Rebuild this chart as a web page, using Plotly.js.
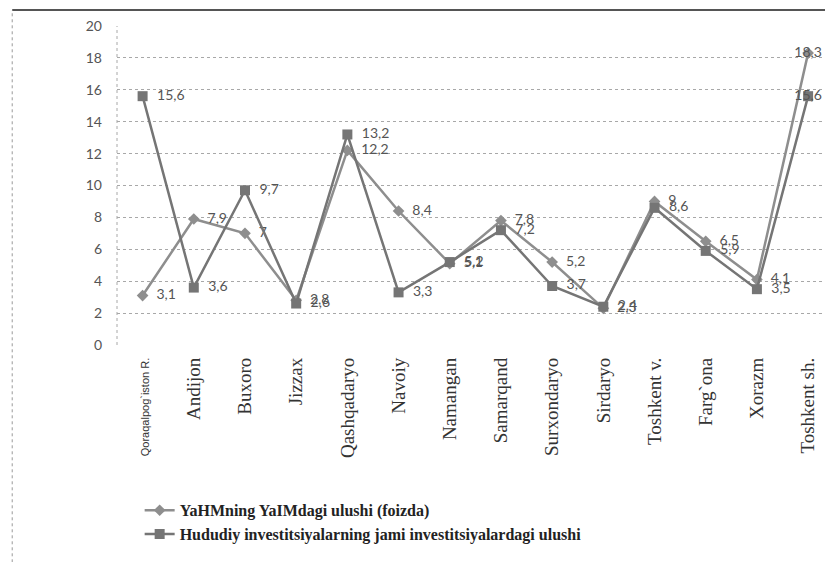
<!DOCTYPE html>
<html>
<head>
<meta charset="utf-8">
<script src="https://cdn.plot.ly/plotly-3.0.1.min.js"></script>
<style>
  html, body { margin: 0; padding: 0; background: #ffffff; }
  #chart { width: 825px; height: 562px; }
</style>
</head>
<body>
<div id="chart"></div>
<script>
const regions = ["Qoraqalpog`iston R.", "Andijon", "Buxoro", "Jizzax", "Qashqadaryo", "Navoiy",
  "Namangan", "Samarqand", "Surxondaryo", "Sirdaryo", "Toshkent v.", "Farg`ona", "Xorazm", "Toshkent sh."];
const gdpShare = [3.1, 7.9, 7.0, 2.8, 12.2, 8.4, 5.1, 7.8, 5.2, 2.3, 9.0, 6.5, 4.1, 18.3];
const investShare = [15.6, 3.6, 9.7, 2.6, 13.2, 3.3, 5.2, 7.2, 3.7, 2.4, 8.6, 5.9, 3.5, 15.6];
const seriesNames = ["YaHMning YaIMdagi ulushi (foizda)", "Hududiy investitsiyalarning jami investitsiyalardagi ulushi"];
const yTicks = [0, 2, 4, 6, 8, 10, 12, 14, 16, 18, 20];

const fmt = v => String(v).replace('.', ',');
const xIdx = regions.map((_, i) => i);
const last = regions.length - 1;
const lbl = arr => arr.map((v, i) => (i === last ? '' : '  ') + fmt(v));
const pos = regions.map((_, i) => i === last ? 'middle center' : 'middle right');
const tickText = regions.map((r, i) => i === 0
  ? '<span style="font-size:11px;font-family:Liberation Sans, Arial, sans-serif">' + r + '</span>'
  : r);

const serif = "Liberation Serif";
const labelFont = { family: "Lato, Open Sans, sans-serif", size: 14, color: '#555555' };

const traces = [
  {
    x: xIdx, y: gdpShare, name: '<b>' + seriesNames[0] + '</b>', type: 'scatter', mode: 'lines+markers+text',
    line: { color: '#8e8e8e', width: 2.5 },
    marker: { symbol: 'diamond', size: 9, color: '#8e8e8e' },
    text: lbl(gdpShare), textposition: pos, textfont: labelFont,
    cliponaxis: false
  },
  {
    x: xIdx, y: investShare, name: '<b>' + seriesNames[1] + '</b>', type: 'scatter', mode: 'lines+markers+text',
    line: { color: '#757575', width: 2.5 },
    marker: { symbol: 'square', size: 10, color: '#757575' },
    text: lbl(investShare), textposition: pos, textfont: labelFont,
    cliponaxis: false
  }
];

const layout = {
  width: 825, height: 562,
  margin: { l: 117, r: 0, t: 26, b: 217 },
  paper_bgcolor: '#ffffff', plot_bgcolor: '#ffffff',
  showlegend: true,
  legend: {
    x: 0.032, y: -0.465, xanchor: 'left', yanchor: 'top',
    orientation: 'v',
    font: { family: serif, size: 16, color: '#222222' },
    bgcolor: 'rgba(0,0,0,0)', tracegroupgap: 0, itemwidth: 30
  },
  xaxis: {
    type: 'linear', range: [-0.5, 13.33],
    tickmode: 'array', tickvals: xIdx, ticktext: tickText,
    tickangle: -90, showgrid: false, zeroline: false, showline: false, ticks: '',
    tickfont: { family: serif, size: 19, color: '#333333' },
    ticklabelstandoff: 8
  },
  yaxis: {
    range: [0, 20], tickmode: 'array', tickvals: yTicks,
    showgrid: true, gridcolor: '#a8a8a8', gridwidth: 1, griddash: 'dot',
    zeroline: false, showline: false, ticks: '',
    tickfont: { family: "Lato, Open Sans, sans-serif", size: 14, color: '#555555' },
    ticklabelstandoff: 14
  },
  shapes: [
    { type: 'line', xref: 'paper', yref: 'paper', x0: 0, x1: 0, y0: 0, y1: 1,
      line: { color: '#a8a8a8', width: 1, dash: 'dot' } },
    { type: 'line', xref: 'paper', yref: 'paper', x0: -0.148, x1: 1.05, y0: 1.05, y1: 1.05,
      line: { color: '#555555', width: 2 } },
    { type: 'line', xref: 'paper', yref: 'paper', x0: -0.148, x1: -0.148, y0: -0.7, y1: 1.05,
      line: { color: '#999999', width: 1, dash: 'dot' } }
  ]
};

Plotly.newPlot('chart', traces, layout, { staticPlot: true, displayModeBar: false });
</script>
</body>
</html>
